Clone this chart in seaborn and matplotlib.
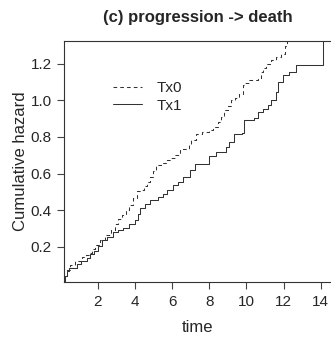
import matplotlib
matplotlib.use("Agg")
import matplotlib.pyplot as plt
import seaborn as sns
import pandas as pd

sns.set_style("white")
plt.rcParams['font.family'] = ['Liberation Sans', 'DejaVu Sans']

# Cumulative hazard, Tx0 (dashed)
tx0_time = [0.19, 0.25, 0.35, 0.53, 0.8, 1.16, 1.35, 1.51, 1.7, 1.87, 2.1, 2.41, 2.7, 2.94,
            3.1, 3.3, 3.5, 3.66, 3.9, 4.1, 4.37, 4.5, 4.64, 4.82, 5.0, 5.16, 5.4, 5.69,
            5.9, 6.14, 6.41, 6.76, 6.9, 7.03, 7.3, 7.6, 8.01, 8.2, 8.46, 8.65, 8.82,
            9.0, 9.17, 9.4, 9.62, 9.8, 9.95, 10.16, 10.6, 10.78, 10.9, 11.05, 11.32,
            11.59, 11.85, 12.07, 12.2]
tx0_haz = [0.012, 0.04, 0.07, 0.1, 0.12, 0.145, 0.155, 0.164, 0.185, 0.209, 0.235, 0.264,
           0.29, 0.322, 0.35, 0.376, 0.4, 0.427, 0.465, 0.504, 0.509, 0.53, 0.554, 0.58,
           0.615, 0.645, 0.66, 0.673, 0.685, 0.7, 0.736, 0.736, 0.76, 0.782, 0.818,
           0.825, 0.836, 0.855, 0.882, 0.91, 0.945, 0.97, 1.0, 1.015, 1.036, 1.083,
           1.095, 1.111, 1.115, 1.157, 1.18, 1.2, 1.22, 1.238, 1.256, 1.30, 1.34]

# Cumulative hazard, Tx1 (solid)
tx1_time = [0.19, 0.25, 0.35, 0.48, 0.89, 1.1, 1.42, 1.6, 1.78, 2.0, 2.23, 2.5, 2.85,
            3.1, 3.39, 3.7, 4.01, 4.15, 4.28, 4.55, 4.8, 5.26, 5.51, 5.75, 6.05, 6.3,
            6.58, 6.94, 7.21, 7.75, 8.01, 8.37, 8.69, 8.9, 9.08, 9.35, 9.74, 9.89,
            10.42, 10.6, 10.9, 11.14, 11.32, 11.59, 11.71, 11.99, 12.3, 12.66, 14.14]
tx1_haz = [0.012, 0.04, 0.065, 0.085, 0.104, 0.12, 0.14, 0.158, 0.176, 0.205, 0.236,
           0.255, 0.278, 0.29, 0.303, 0.325, 0.345, 0.38, 0.409, 0.436, 0.458, 0.472,
           0.49, 0.51, 0.536, 0.556, 0.58, 0.618, 0.655, 0.655, 0.694, 0.718, 0.72,
           0.745, 0.772, 0.817, 0.82, 0.893, 0.902, 0.938, 0.955, 0.974, 1.0, 1.047,
           1.1, 1.138, 1.157, 1.192, 1.34]

x_ticks = [2, 4, 6, 8, 10, 12, 14]
y_ticks = [0.2, 0.4, 0.6, 0.8, 1.0, 1.2]

df0 = pd.DataFrame({"time": tx0_time, "haz": tx0_haz})
df1 = pd.DataFrame({"time": tx1_time, "haz": tx1_haz})

fig = plt.figure(figsize=(3.31, 3.41), dpi=100)
ax = fig.add_axes([64/331, 1-282/341, (331-64)/331, (282-41)/341])

sns.lineplot(data=df0, x="time", y="haz", ax=ax, estimator=None, sort=False,
             drawstyle="steps-post", color="#333333", lw=0.75,
             linestyle=(0, (3.5, 3)), label="Tx0")
sns.lineplot(data=df1, x="time", y="haz", ax=ax, estimator=None, sort=False,
             drawstyle="steps-post", color="#333333", lw=0.75, label="Tx1")

ax.set_xlim(0.19, 14.55)
ax.set_ylim(0.007, 1.325)
ax.set_xticks(x_ticks)
ax.set_xticklabels([str(v) for v in x_ticks])
ax.set_yticks(y_ticks)
ax.set_yticklabels([f"{v:.1f}" for v in y_ticks])
ax.tick_params(axis="both", which="both", direction="out", length=5, width=0.8,
               color="#444444", labelsize=11, pad=4, bottom=True, left=True)
for side in ["left", "bottom", "top"]:
    ax.spines[side].set_visible(True)
    ax.spines[side].set_color("#333333")
    ax.spines[side].set_linewidth(0.8)
ax.spines["right"].set_visible(False)

ax.set_xlabel("time", fontsize=12, labelpad=8)
ax.set_ylabel("Cumulative hazard", fontsize=12, labelpad=2)
ax.set_title("(c) progression -> death", fontsize=12, fontweight="bold", pad=14)

leg = ax.legend(loc="upper left", bbox_to_anchor=(113/331, 1-81/341),
                bbox_transform=fig.transFigure, frameon=False, fontsize=11,
                handlelength=1.9, handletextpad=0.95, borderpad=0, borderaxespad=0,
                labelspacing=0.25)

fig.savefig("out.png", dpi=100)
